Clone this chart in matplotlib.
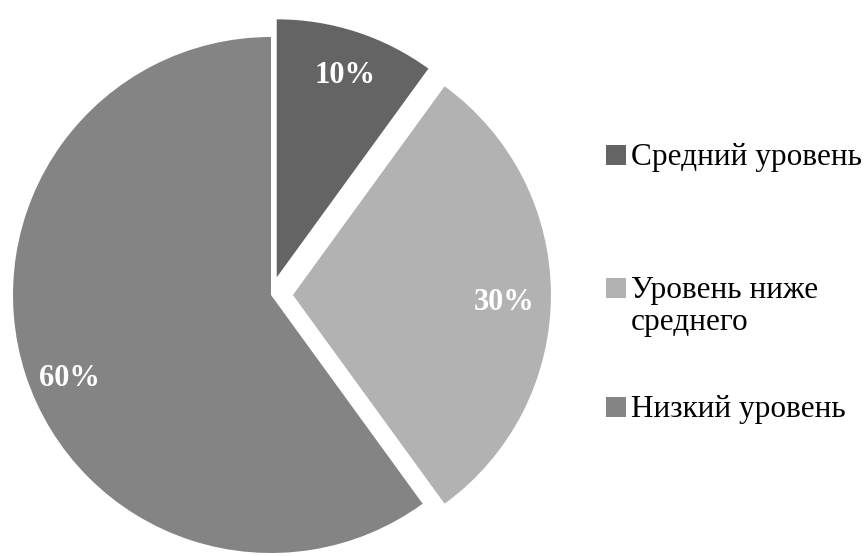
import matplotlib
matplotlib.use("Agg")
import matplotlib.pyplot as plt
from matplotlib.patches import Rectangle

categories = ["Средний уровень", "Уровень ниже среднего", "Низкий уровень"]
legend_lines = [["Средний уровень"], ["Уровень ниже", "среднего"], ["Низкий уровень"]]
values = [10, 30, 60]
colors = ["#646464", "#b2b2b2", "#848484"]
explode = [0.072, 0.085, 0.0]

plt.rcParams["font.family"] = ["Liberation Serif", "DejaVu Serif"]

W, H = 865, 556
fig = plt.figure(figsize=(W / 100, H / 100), dpi=100)
ax = fig.add_axes([0, 0, 1, 1])
ax.set_axis_off()

cx, cy, R = 271, 295, 258
wedges, texts, autotexts = ax.pie(
    values, colors=colors, explode=explode, startangle=90, counterclock=False,
    autopct=lambda p: f"{p:.0f}%", pctdistance=0.83,
    wedgeprops=dict(linewidth=0), radius=1.0,
)
for t in autotexts:
    t.set_color("white")
    t.set_fontweight("bold")
    t.set_fontsize(22)
# fine-tune label placement to match reference
autotexts[0].set_position((74 / R, 220 / R))
autotexts[1].set_position((233 / R, -7 / R))
autotexts[2].set_position((-202 / R, -83 / R))
ax.set_aspect("equal")
ax.set_xlim(-cx / R, (W - cx) / R)
ax.set_ylim(-(H - cy) / R, cy / R)

# legend drawn manually
sq = 20
text_x = 631
sq_x = 606
baselines = [165, 298, 417]
line_gap = 32
for lines, col, b in zip(legend_lines, colors, baselines):
    fig.patches.append(Rectangle((sq_x / W, 1 - b / H), sq / W, sq / H,
                                 transform=fig.transFigure, facecolor=col,
                                 edgecolor="none"))
    for k, line in enumerate(lines):
        fig.text(text_x / W, 1 - (b + k * line_gap) / H, line,
                 fontsize=22.5, color="black", va="baseline", ha="left")

fig.savefig("out.png", dpi=100, facecolor="white")
